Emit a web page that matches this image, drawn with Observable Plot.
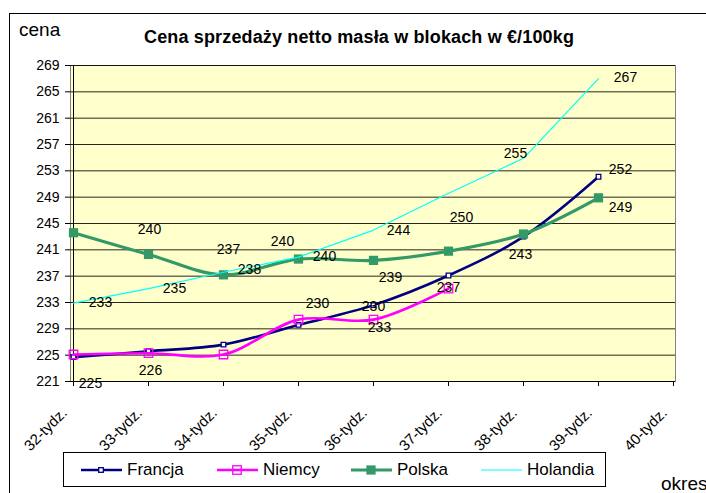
<!DOCTYPE html>
<html>
<head>
<meta charset="utf-8">
<script src="https://cdn.jsdelivr.net/npm/d3@7"></script>
<script src="https://cdn.jsdelivr.net/npm/@observablehq/plot@0.6"></script>
<style>
  html, body { margin: 0; padding: 0; background: #fff; }
  body { width: 706px; height: 493px; overflow: hidden; font-family: "Liberation Sans", Arial, sans-serif; }
  #wrap { position: relative; width: 706px; height: 493px; overflow: hidden; }
  #border { position: absolute; left: 9px; top: 13px; width: 760px; height: 560px; border: 1px solid #000; box-sizing: border-box; }
  #chart { position: absolute; left: 0; top: 0; }
  .txt { position: absolute; white-space: nowrap; color: #000; line-height: 1; }
  #legend { position: absolute; left: 63px; top: 452px; width: 543px; height: 35px; border: 1px solid #000; box-sizing: border-box; background: #fff; }
  .li { position: absolute; top: 0; height: 33px; display: flex; align-items: center; font-size: 17px; }
  .li svg { margin-right: 5px; }
</style>
</head>
<body>
<div id="wrap">
  <div id="border"></div>
  <div id="chart"></div>
  <div class="txt" id="ytitle" style="left:19px; top:20px; font-size:19px;">cena</div>
  <div class="txt" id="title" style="left:144px; top:28px; font-size:18px; font-weight:bold; letter-spacing:0.15px;">Cena sprzedaży netto masła w blokach w €/100kg</div>
  <div class="txt" id="xtitle" style="left:661px; top:474px; font-size:19px;">okres</div>
  <div id="legend"></div>
</div>
<script>
// ---- data ----
const weeks = ["32-tydz.", "33-tydz.", "34-tydz.", "35-tydz.", "36-tydz.", "37-tydz.", "38-tydz.", "39-tydz.", "40-tydz."];
const seriesNames = ["Francja", "Niemcy", "Polska", "Holandia"];
const francja  = [224.7, 225.6, 226.6, 229.6, 232.6, 237.1, 243.0, 252.1, null];
const niemcy   = [225.1, 225.3, 225.1, 230.4, 230.4, 235.1, null, null, null];
const polska   = [243.6, 240.3, 237.2, 239.6, 239.4, 240.8, 243.4, 248.9, null];
const holandia = [232.9, 235.1, 237.6, 239.9, 244.0, 249.6, 254.9, 267.0, null];
const yTicks = [221, 225, 229, 233, 237, 241, 245, 249, 253, 257, 261, 265, 269];

// which data points carry a visible value label (series, week index)
const labelled = {
  Francja: [0, 1, 4, 5, 7],
  Niemcy: [3, 4],
  Polska: [1, 2, 3, 4, 6, 7],
  Holandia: [0, 1, 2, 3, 4, 5, 6, 7]
};

// ---- styling ----
const style = {
  Francja:  {stroke: "#000080", width: 2.6, curve: "catmull-rom", symbol: "square", r: 2.6, fill: "#ffffff", mstroke: "#000080", mwidth: 1.3},
  Niemcy:   {stroke: "#FF00FF", width: 2.6, curve: "catmull-rom", symbol: "square", r: 4.8, fill: "none", mstroke: "#FF00FF", mwidth: 1.3},
  Polska:   {stroke: "#339966", width: 3.2, curve: "catmull-rom", symbol: "square", r: 5.2, fill: "#339966", mstroke: "#339966", mwidth: 0},
  Holandia: {stroke: "#00FFFF", width: 1.2, curve: "linear", symbol: null}
};
// label offsets [dx, dy] in px, keyed by series then week index
const labelOffsets = {
  Francja:  {0: [17, 26], 1: [2, 19], 4: [6, 22], 5: [0, 12], 7: [22, -7]},
  Niemcy:   {3: [19, -16], 4: [0, -13]},
  Polska:   {1: [1, -25], 2: [5, -25], 3: [-16, -18], 4: [17, 17], 6: [-3, 20], 7: [22, 10]},
  Holandia: {0: [27, -1], 1: [26, 0], 2: [26, -3], 3: [26, -1], 4: [25, 0], 5: [13, 24], 6: [-8, -5], 7: [27, -1]}
};

const valuesBy = {Francja: francja, Niemcy: niemcy, Polska: polska, Holandia: holandia};
const rows = [];
for (const s of seriesNames) {
  valuesBy[s].forEach((v, i) => { if (v != null) rows.push({series: s, week: weeks[i], idx: i, value: v}); });
}

const marks = [
  Plot.frame({fill: "#FFFFCC", stroke: "#808080"}),
  Plot.ruleY(yTicks, {stroke: "#000", strokeOpacity: 0.85, strokeWidth: 1}),
  Plot.ruleX([weeks[0]], {stroke: "#000"}),
  Plot.axisY({ticks: yTicks, tickSize: 5, tickPadding: 6, fontSize: 14, label: null}),
  Plot.axisX({tickSize: 5, tickFormat: () => "", label: null}),
  Plot.axisX({tickRotate: -45, tickSize: 0, tickPadding: 29, fontSize: 15, dx: -9, label: null}),
  Plot.ruleY([221], {stroke: "#000"})
];
for (const s of seriesNames) {
  const st = style[s];
  const data = rows.filter(d => d.series === s);
  marks.push(Plot.line(data, {x: "week", y: "value", stroke: st.stroke, strokeWidth: st.width, curve: st.curve}));
  if (st.symbol) {
    marks.push(Plot.dot(data, {x: "week", y: "value", symbol: st.symbol, r: st.r, fill: st.fill, stroke: st.mstroke, strokeWidth: st.mwidth}));
  }
}
for (const s of seriesNames) {
  for (const i of labelled[s]) {
    const d = rows.find(r => r.series === s && r.idx === i);
    const [dx, dy] = labelOffsets[s][i];
    marks.push(Plot.text([d], {x: "week", y: "value", text: r => String(Math.round(r.value)), dx, dy, fontSize: 14, fill: "#000"}));
  }
}

const chart = Plot.plot({
  width: 706,
  height: 440,
  marginLeft: 70,
  marginRight: 31,
  marginTop: 65,
  marginBottom: 59,
  style: {fontFamily: "'Liberation Sans', Arial, sans-serif", fontSize: "14px", color: "#000", background: "transparent", overflow: "visible"},
  x: {type: "point", domain: weeks, padding: 0},
  y: {domain: [221, 269]},
  marks
});
document.getElementById("chart").appendChild(chart);

// ---- legend ----
const legendPos = {Francja: 17, Niemcy: 153, Polska: 287, Holandia: 417};
const legend = document.getElementById("legend");
for (const s of seriesNames) {
  const st = style[s];
  const item = document.createElement("div");
  item.className = "li";
  item.style.left = legendPos[s] + "px";
  const side = st.symbol ? st.r * Math.sqrt(Math.PI) : 0;
  let sym = "";
  if (st.symbol) {
    sym = `<rect x="${20 - side / 2}" y="${8 - side / 2}" width="${side}" height="${side}" fill="${st.fill}" stroke="${st.mstroke}" stroke-width="${st.mwidth}"/>`;
  }
  item.innerHTML = `<svg width="41" height="16"><line x1="0" x2="41" y1="8" y2="8" stroke="${st.stroke}" stroke-width="${st.width}"/>${sym}</svg><span>${s}</span>`;
  legend.appendChild(item);
}
</script>
</body>
</html>
